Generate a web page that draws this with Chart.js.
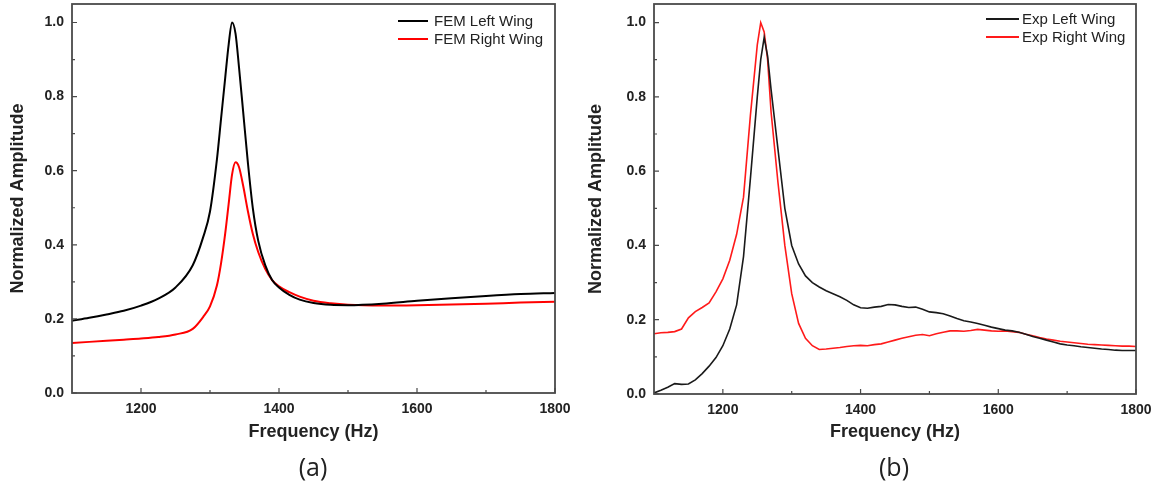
<!DOCTYPE html>
<html>
<head>
<meta charset="utf-8">
<script src="https://cdn.jsdelivr.net/npm/chart.js@4.4.1/dist/chart.umd.min.js"></script>
<style>
  body { margin: 0; background: #fff; }
  #wrap { position: relative; width: 1156px; height: 484px; overflow: hidden; }
  canvas { position: absolute; top: 0; }
  .panel-label {
    position: absolute; top: 449px; width: 60px; margin-left: -30px;
    text-align: center; font: 25px "Open Sans", sans-serif; color: #222; line-height: 34px;
  }
</style>
</head>
<body>
<div id="wrap">
  <canvas id="chartA" width="578" height="484" style="left:0"></canvas>
  <canvas id="chartB" width="578" height="484" style="left:578px"></canvas>
  <div class="panel-label" style="left:313px">(a)</div>
  <div class="panel-label" style="left:894px">(b)</div>
</div>
<script>
// 数据：近似值

// (a) FEM 仿真
const freqFem = [1100, 1125, 1150, 1175, 1200, 1225, 1250, 1275, 1290, 1300, 1310, 1316, 1322, 1327, 1332,
  1337, 1342, 1348, 1355, 1362, 1370, 1380, 1390, 1400, 1415, 1430, 1450, 1475, 1500, 1550, 1600, 1650,
  1700, 1750, 1800];
const femLeft = [0.195, 0.203, 0.212, 0.222, 0.236, 0.255, 0.285, 0.345, 0.42, 0.49, 0.63, 0.74, 0.85, 0.94, 1.0,
  0.97, 0.88, 0.76, 0.62, 0.50, 0.41, 0.345, 0.305, 0.285, 0.265, 0.252, 0.243, 0.238, 0.237, 0.241, 0.249, 0.256,
  0.262, 0.267, 0.27];
const femRight = [0.135, 0.138, 0.141, 0.144, 0.147, 0.151, 0.158, 0.173, 0.205, 0.234, 0.29, 0.35, 0.43, 0.51, 0.59,
  0.623, 0.61, 0.56, 0.49, 0.43, 0.38, 0.335, 0.305, 0.288, 0.272, 0.26, 0.249, 0.242, 0.238, 0.236, 0.237, 0.239,
  0.241, 0.244, 0.246];

// (b) 实验测量
const freqExp = [1100, 1110, 1120, 1130, 1140, 1150, 1160, 1170, 1180, 1190, 1200, 1210, 1220, 1230, 1240, 1250,
  1255, 1260, 1265, 1270, 1280, 1290, 1300, 1310, 1320, 1330, 1340, 1350, 1360, 1370, 1380, 1390, 1400,
  1410, 1420, 1430, 1440, 1450, 1460, 1470, 1480, 1490, 1500, 1510, 1520, 1530, 1540, 1550, 1560, 1570,
  1580, 1590, 1600, 1610, 1620, 1630, 1640, 1650, 1660, 1670, 1680, 1690, 1700, 1710, 1720, 1730, 1740,
  1750, 1760, 1770, 1780, 1790, 1800];
const expLeft = [0.003, 0.010, 0.018, 0.028, 0.026, 0.027, 0.038, 0.055, 0.075, 0.098, 0.13, 0.175, 0.24, 0.37, 0.58, 0.80,
  0.90, 0.96, 0.91, 0.82, 0.66, 0.50, 0.40, 0.35, 0.318, 0.30, 0.288, 0.278, 0.27, 0.262, 0.252, 0.240, 0.232,
  0.231, 0.234, 0.236, 0.241, 0.240, 0.236, 0.233, 0.234, 0.228, 0.221, 0.219, 0.216, 0.21, 0.203, 0.197, 0.194, 0.19,
  0.185, 0.18, 0.176, 0.172, 0.17, 0.166, 0.161, 0.155, 0.15, 0.145, 0.14, 0.135, 0.132, 0.13, 0.127, 0.125, 0.123,
  0.121, 0.120, 0.118, 0.117, 0.117, 0.117];
const expRight = [0.162, 0.165, 0.166, 0.168, 0.175, 0.205, 0.222, 0.233, 0.245, 0.275, 0.31, 0.36, 0.43, 0.53, 0.75, 0.94,
  1.0, 0.975, 0.90, 0.76, 0.57, 0.40, 0.27, 0.19, 0.15, 0.13, 0.12, 0.121, 0.123, 0.125, 0.128, 0.13, 0.131,
  0.13, 0.133, 0.135, 0.14, 0.145, 0.15, 0.154, 0.158, 0.16, 0.157, 0.162, 0.166, 0.17, 0.17, 0.169, 0.171, 0.174,
  0.172, 0.17, 0.169, 0.17, 0.168, 0.166, 0.161, 0.157, 0.152, 0.148, 0.145, 0.142, 0.14, 0.138, 0.136, 0.134, 0.133,
  0.132, 0.131, 0.13, 0.129, 0.129, 0.128];

// 刻度
const xMinorTicks = [1300, 1500, 1700];
const yMinorTicks = [0.1, 0.3, 0.5, 0.7, 0.9];

const textColor = '#222';
const axisColor = '#4a4a4a';

function toPoints(xs, ys) {
  return xs.map((x, i) => ({ x: x, y: ys[i] }));
}

// 画边框、向内的刻度线和图内图例
const framePlugin = {
  id: 'frame',
  afterDraw(chart, args, opts) {
    const { ctx, chartArea: a, scales } = chart;
    ctx.save();
    ctx.strokeStyle = axisColor;
    ctx.lineWidth = 1.2;
    ctx.beginPath();
    scales.x.ticks.forEach((t) => {
      const px = scales.x.getPixelForValue(t.value);
      ctx.moveTo(px, a.bottom); ctx.lineTo(px, a.bottom - 5);
    });
    xMinorTicks.forEach((v) => {
      const px = scales.x.getPixelForValue(v);
      ctx.moveTo(px, a.bottom); ctx.lineTo(px, a.bottom - 3);
    });
    scales.y.ticks.forEach((t) => {
      const py = scales.y.getPixelForValue(t.value);
      ctx.moveTo(a.left, py); ctx.lineTo(a.left + 5, py);
    });
    yMinorTicks.forEach((v) => {
      const py = scales.y.getPixelForValue(v);
      ctx.moveTo(a.left, py); ctx.lineTo(a.left + 3, py);
    });
    ctx.stroke();

    ctx.lineWidth = 1.8;
    ctx.strokeRect(a.left, a.top, a.right - a.left, a.bottom - a.top);

    // 图例
    ctx.font = '15px "Liberation Sans", Arial, sans-serif';
    ctx.textBaseline = 'middle';
    ctx.fillStyle = textColor;
    chart.data.datasets.forEach((ds, i) => {
      const y = a.top + opts.top + i * 18;
      const x0 = a.right - opts.fromRight;
      ctx.strokeStyle = ds.borderColor;
      ctx.lineWidth = 2;
      ctx.beginPath();
      ctx.moveTo(x0, y); ctx.lineTo(x0 + opts.lineLen, y);
      ctx.stroke();
      ctx.fillText(ds.label, x0 + opts.lineLen + opts.gap, y + 1);
    });
    ctx.restore();
  }
};

function makeChart(id, datasets, layout, legendOpts) {
  return new Chart(document.getElementById(id), {
    type: 'line',
    data: { datasets: datasets },
    plugins: [framePlugin],
    options: {
      responsive: false,
      animation: false,
      devicePixelRatio: 1,
      layout: { padding: { top: 4, right: layout.right, bottom: 0, left: 0 } },
      elements: { point: { radius: 0 } },
      plugins: {
        legend: { display: false },
        tooltip: { enabled: false },
        frame: legendOpts,
      },
      scales: {
        x: {
          type: 'linear',
          min: 1100,
          max: 1800,
          grid: { display: false, drawTicks: false },
          border: { display: false },
          ticks: {
            stepSize: 200,
            includeBounds: false,
            padding: 8,
            color: textColor,
            font: { family: '"Liberation Sans", Arial', size: 14, weight: 'bold' },
            callback: (v) => String(v),
          },
          title: {
            display: true,
            text: 'Frequency (Hz)',
            color: textColor,
            font: { family: '"Liberation Sans", Arial', size: 18, weight: 'bold' },
            padding: { top: 0, bottom: 41 },
          },
          afterFit(scale) {
            scale.height = layout.xHeight;
            scale.paddingLeft = 0;
            scale.paddingRight = 0;
          },
        },
        y: {
          min: 0,
          max: 1.05,
          grid: { display: false, drawTicks: false },
          border: { display: false },
          ticks: {
            stepSize: 0.2,
            includeBounds: false,
            padding: 8,
            color: textColor,
            font: { family: '"Liberation Sans", Arial', size: 14, weight: 'bold' },
            callback: (v) => Number(v).toFixed(1),
          },
          title: {
            display: true,
            text: 'Normalized Amplitude',
            color: textColor,
            font: { family: '"Liberation Sans", Arial', size: 18, weight: 'bold' },
            padding: { top: 7, bottom: 0 },
          },
          afterFit(scale) {
            scale.width = layout.yWidth;
            scale.paddingTop = 0;
            scale.paddingBottom = 0;
          },
        },
      },
    },
  });
}

makeChart('chartA', [
  {
    label: 'FEM Left Wing',
    data: toPoints(freqFem, femLeft),
    borderColor: '#000000',
    borderWidth: 2,
    cubicInterpolationMode: 'monotone',
  },
  {
    label: 'FEM Right Wing',
    data: toPoints(freqFem, femRight),
    borderColor: '#ff0000',
    borderWidth: 2,
    cubicInterpolationMode: 'monotone',
  },
], { right: 23, yWidth: 72, xHeight: 91 }, { top: 17, fromRight: 157, lineLen: 30, gap: 6 });

makeChart('chartB', [
  {
    label: 'Exp Left Wing',
    data: toPoints(freqExp, expLeft),
    borderColor: '#1a1a1a',
    borderWidth: 1.6,
    tension: 0,
  },
  {
    label: 'Exp Right Wing',
    data: toPoints(freqExp, expRight),
    borderColor: '#ff1a1a',
    borderWidth: 1.6,
    tension: 0,
  },
], { right: 20, yWidth: 76, xHeight: 90 }, { top: 15, fromRight: 150, lineLen: 33, gap: 3 });
</script>
</body>
</html>
